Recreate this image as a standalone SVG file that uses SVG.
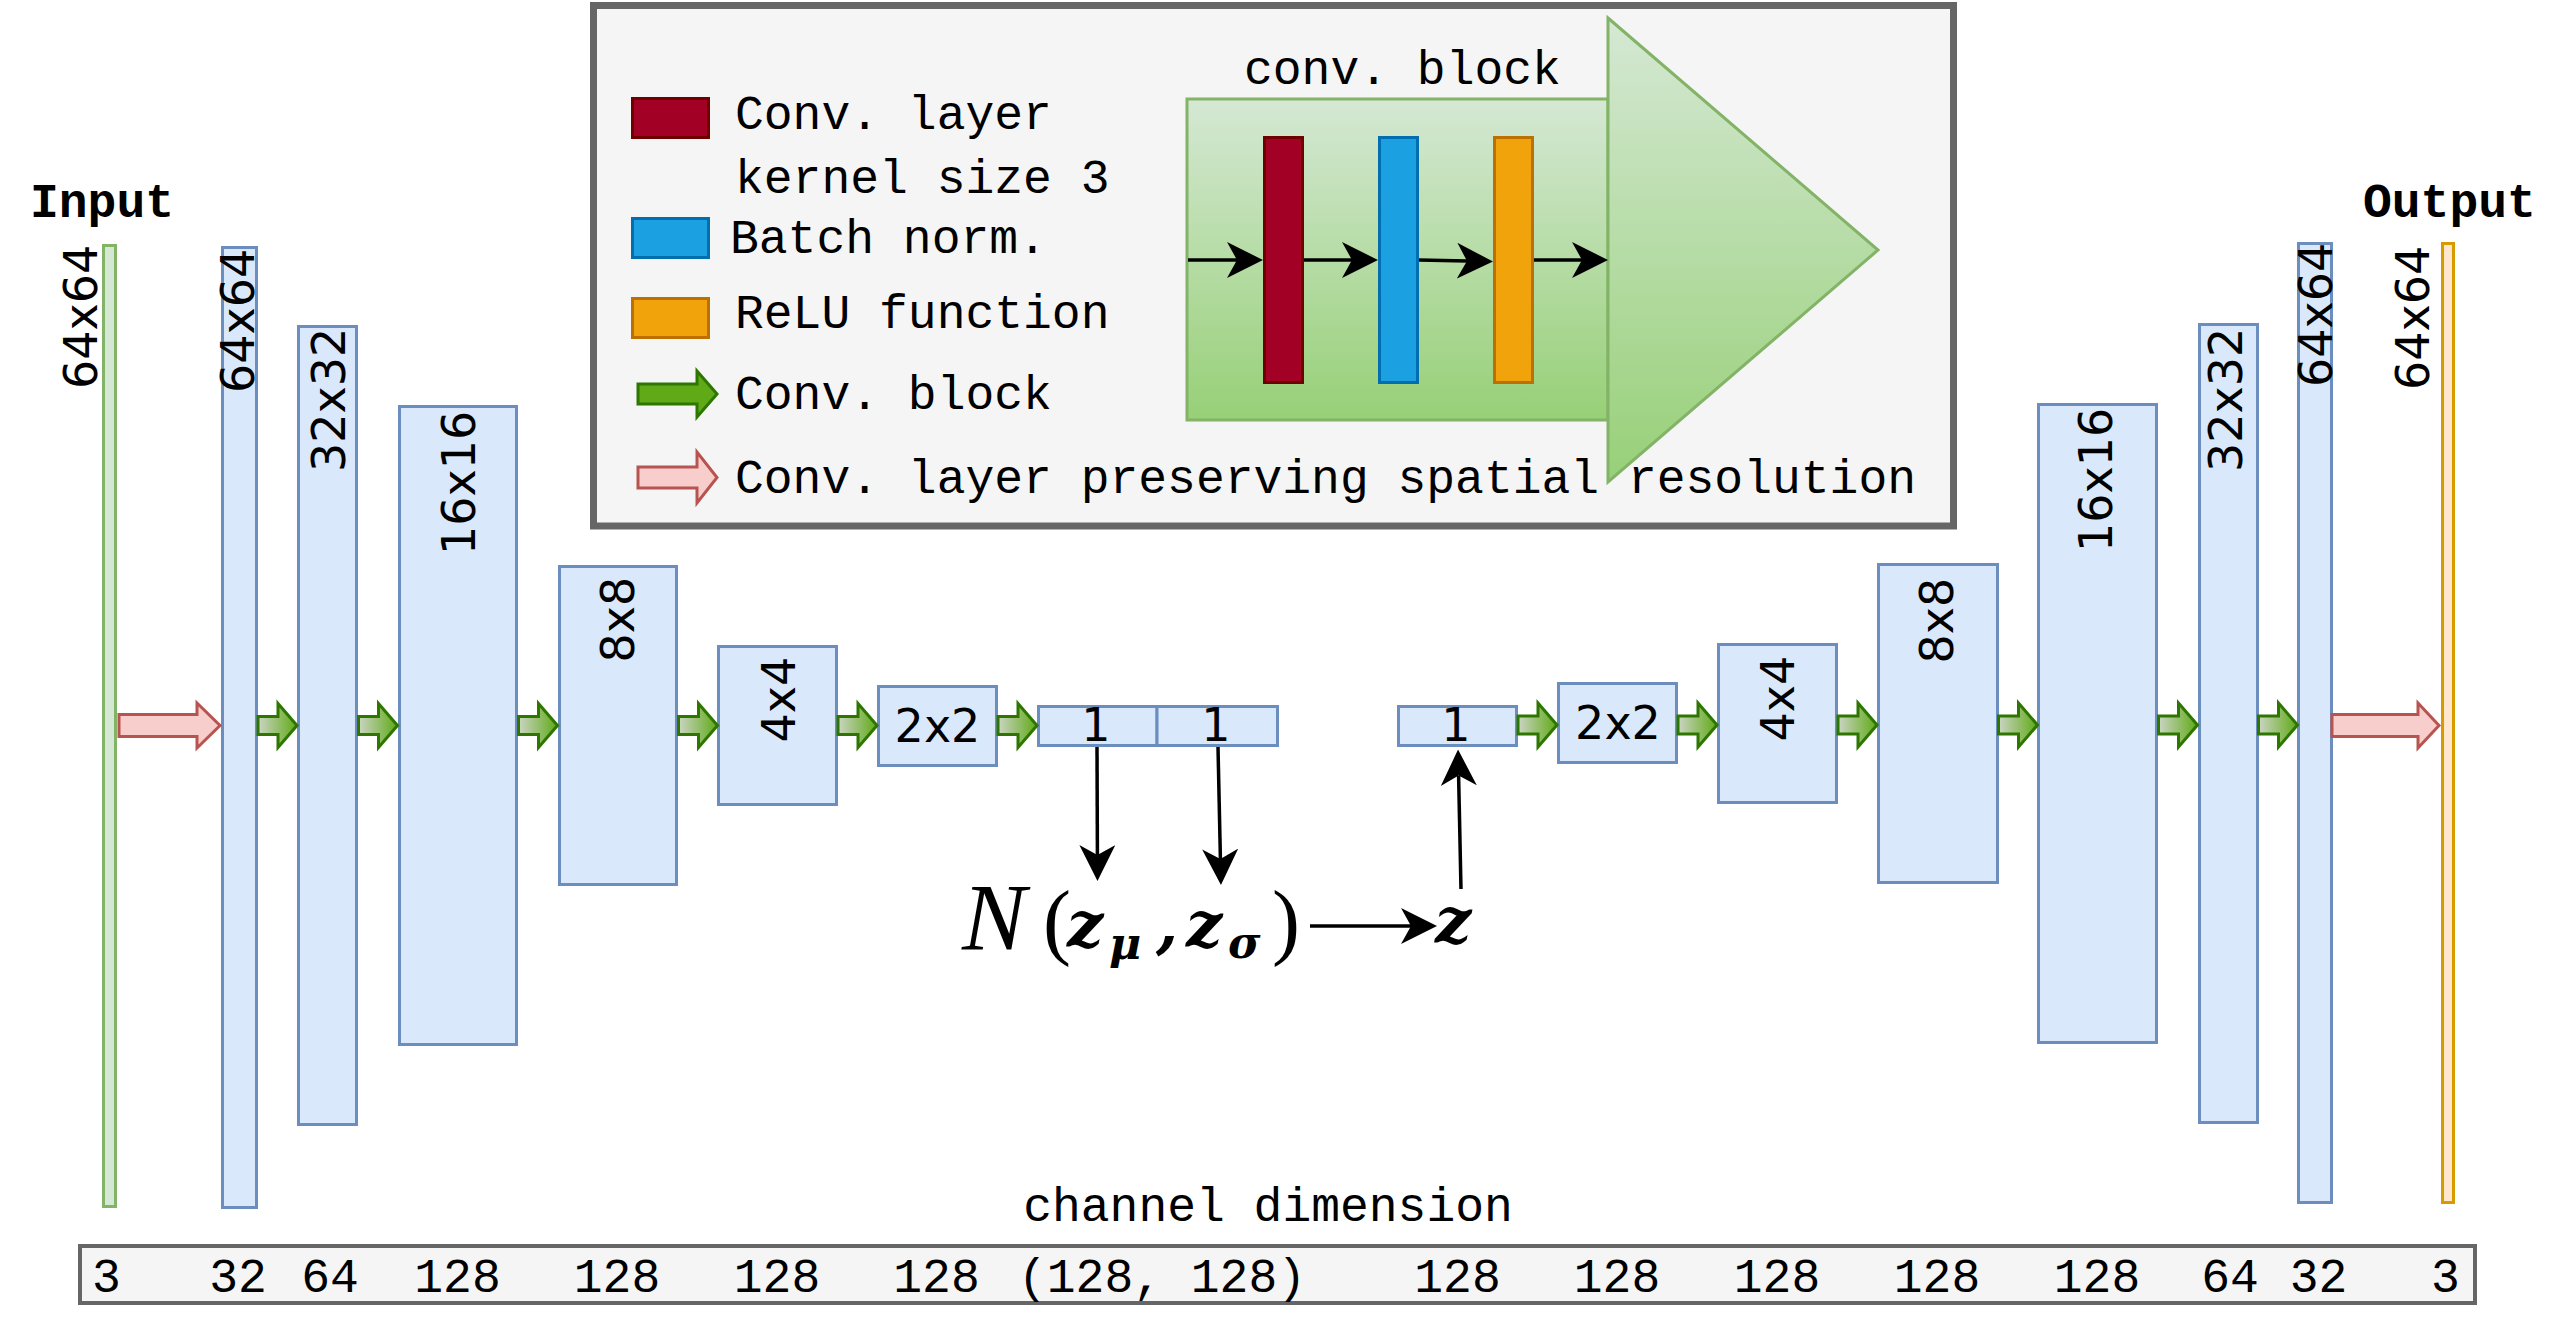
<svg xmlns="http://www.w3.org/2000/svg" width="2572" height="1320" viewBox="0 0 2572 1320">
<defs>
<style>
.bar{fill:#dae8fc;stroke:#6c8ebf;stroke-width:3}
.mono{font-family:"Liberation Mono","DejaVu Sans Mono",monospace;font-size:48px;fill:#000}
.lbl{font-family:"DejaVu Sans","Liberation Sans",sans-serif;font-size:46px;fill:#000}
.conv{fill:url(#gArrow);stroke:#2d7600;stroke-width:3}
.pres{fill:#f8cecc;stroke:#b85450;stroke-width:3}
.ln{stroke:#000;stroke-width:3.5;fill:none;marker-end:url(#ah)}
.mz{font-family:"DejaVu Serif","Liberation Serif",serif;font-weight:bold;font-style:italic;fill:#000}
</style>
<linearGradient id="gArrow" x1="0" y1="0" x2="1" y2="0"><stop offset="0" stop-color="#cbd5c4"/><stop offset="1" stop-color="#60a917"/></linearGradient>
<linearGradient id="gBlock" x1="0" y1="0" x2="0" y2="1"><stop offset="0" stop-color="#d5e8d4"/><stop offset="1" stop-color="#97d077"/></linearGradient>
<marker id="ah" markerUnits="userSpaceOnUse" markerWidth="36" markerHeight="36" viewBox="0 0 36 36" refX="10" refY="18" orient="auto"><path d="M0,0 L36,18 L0,36 L10,18 Z" fill="#000"/></marker>
<path id="greenArrow" d="M0,-9 H20 V-22 L39,0 L20,22 V9 H0 Z"/>
</defs>
<rect width="2572" height="1320" fill="#fff"/>

<g id="legend">
<rect x="593.5" y="5.5" width="1360" height="520.5" fill="#f5f5f5" stroke="#666666" stroke-width="7"/>
<rect x="632.5" y="98.5" width="76" height="39" fill="#a20025" stroke="#6f0000" stroke-width="3"/>
<rect x="632.5" y="218.5" width="76" height="39" fill="#1ba1e2" stroke="#006eaf" stroke-width="3"/>
<rect x="632.5" y="298.5" width="76" height="39" fill="#f0a30a" stroke="#bd7000" stroke-width="3"/>
<path d="M638,384 H697 V371 L717,394 L697,417 V404 H638 Z" fill="#60a917" stroke="#2d7600" stroke-width="3"/>
<path class="pres" d="M638,467 H697 V452 L717,477.5 L697,503 V488 H638 Z"/>
<text class="mono" x="735" y="129">Conv. layer</text>
<text class="mono" x="735" y="193">kernel size 3</text>
<text class="mono" x="730" y="253">Batch norm.</text>
<text class="mono" x="735" y="328">ReLU function</text>
<text class="mono" x="735" y="409">Conv. block</text>
<text class="mono" x="735" y="493">Conv. layer preserving spatial resolution</text>
</g>

<g id="conv-block-detail">
<rect x="1187" y="99" width="421" height="321" fill="url(#gBlock)" stroke="#82b366" stroke-width="3"/>
<path d="M1608,18 L1878,250 L1608,482 Z" fill="url(#gBlock)" stroke="#82b366" stroke-width="3"/>
<text class="mono" x="1244" y="84">conv. block</text>
<rect x="1264.5" y="137.5" width="38" height="245" fill="#a20025" stroke="#6f0000" stroke-width="3"/>
<rect x="1379.5" y="137.5" width="38" height="245" fill="#1ba1e2" stroke="#006eaf" stroke-width="3"/>
<rect x="1494.5" y="137.5" width="38" height="245" fill="#f0a30a" stroke="#bd7000" stroke-width="3"/>
<line class="ln" x1="1188" y1="260" x2="1237" y2="260"/>
<line class="ln" x1="1304" y1="260" x2="1352" y2="260"/>
<line class="ln" x1="1419" y1="260" x2="1467" y2="261"/>
<line class="ln" x1="1534" y1="260" x2="1582" y2="260"/>
</g>

<g id="input">
<text class="mono" x="30" y="217" font-weight="bold">Input</text>
<rect x="103.5" y="245.5" width="12" height="961" fill="#d5e8d4" stroke="#82b366" stroke-width="3"/>
<text class="lbl" text-anchor="end" transform="translate(96.8,244.7) rotate(-90)">64x64</text>
</g>

<g id="enc-64">
<rect class="bar" x="222.5" y="247.5" width="34" height="960"/>
<text class="lbl" text-anchor="end" transform="translate(254,248.7) rotate(-90)">64x64</text>
</g>
<g id="enc-32">
<rect class="bar" x="298.5" y="326.5" width="58" height="798"/>
<text class="lbl" text-anchor="end" transform="translate(345,327.7) rotate(-90)">32x32</text>
</g>
<g id="enc-16">
<rect class="bar" x="399.5" y="406.5" width="117" height="638"/>
<text class="lbl" text-anchor="end" transform="translate(475,410.7) rotate(-90)">16x16</text>
</g>
<g id="enc-8">
<rect class="bar" x="559.5" y="566.5" width="117" height="318"/>
<text class="lbl" text-anchor="end" transform="translate(634,576.7) rotate(-90)">8x8</text>
</g>
<g id="enc-4">
<rect class="bar" x="718.5" y="646.5" width="118" height="158"/>
<text class="lbl" text-anchor="end" transform="translate(795,656.7) rotate(-90)">4x4</text>
</g>
<g id="enc-2">
<rect class="bar" x="878.5" y="686.5" width="118" height="79"/>
<text class="lbl" x="937.5" y="742" text-anchor="middle">2x2</text>
</g>
<g id="latent-mu-sigma">
<rect class="bar" x="1038.5" y="706.5" width="118.5" height="39"/>
<rect class="bar" x="1157" y="706.5" width="120.5" height="39"/>
<text class="lbl" x="1096" y="741" text-anchor="middle">1</text>
<text class="lbl" x="1216" y="741" text-anchor="middle">1</text>
</g>

<g id="dec-1">
<rect class="bar" x="1398.5" y="706.5" width="118" height="39"/>
<text class="lbl" x="1456" y="741" text-anchor="middle">1</text>
</g>
<g id="dec-2">
<rect class="bar" x="1558.5" y="683.5" width="118" height="79"/>
<text class="lbl" x="1618" y="739" text-anchor="middle">2x2</text>
</g>
<g id="dec-4">
<rect class="bar" x="1718.5" y="644.5" width="118" height="158"/>
<text class="lbl" text-anchor="end" transform="translate(1794,655.7) rotate(-90)">4x4</text>
</g>
<g id="dec-8">
<rect class="bar" x="1878.5" y="564.5" width="119" height="318"/>
<text class="lbl" text-anchor="end" transform="translate(1953,577.7) rotate(-90)">8x8</text>
</g>
<g id="dec-16">
<rect class="bar" x="2038.5" y="404.5" width="118" height="638"/>
<text class="lbl" text-anchor="end" transform="translate(2112,407.7) rotate(-90)">16x16</text>
</g>
<g id="dec-32">
<rect class="bar" x="2199.5" y="324.5" width="58" height="798"/>
<text class="lbl" text-anchor="end" transform="translate(2242,327.7) rotate(-90)">32x32</text>
</g>
<g id="dec-64">
<rect class="bar" x="2298.5" y="243.5" width="33" height="959"/>
<text class="lbl" text-anchor="end" transform="translate(2332,242.7) rotate(-90)">64x64</text>
</g>
<g id="output">
<text class="mono" x="2363" y="217" font-weight="bold">Output</text>
<rect x="2442.5" y="243.5" width="11" height="959" fill="#ffe6cc" stroke="#d79b00" stroke-width="3"/>
<text class="lbl" text-anchor="end" transform="translate(2429,245.7) rotate(-90)">64x64</text>
</g>

<g id="formula">
<text x="962" y="950" font-family="Liberation Serif,serif" font-style="italic" font-size="96">N</text>
<text x="1043" y="949" font-family="Liberation Serif,serif" font-size="84">(</text>
<text class="mz" x="1067" y="946" font-size="64">z</text>
<text class="mz" x="1109" y="959" font-size="44">μ</text>
<text class="mz" x="1156" y="946" font-size="64">,</text>
<text class="mz" x="1186" y="946" font-size="64">z</text>
<text class="mz" x="1228" y="958" font-size="44">σ</text>
<text x="1272" y="949" font-family="Liberation Serif,serif" font-size="84">)</text>
<text class="mz" x="1435" y="942" font-size="64">z</text>
</g>

<g id="connectors">
<path class="pres" d="M119,714.5 H197 V703 L220,725.5 L197,748 V736.5 H119 Z"/>
<use href="#greenArrow" class="conv" x="258" y="725.5"/>
<use href="#greenArrow" class="conv" x="358.5" y="725.5"/>
<use href="#greenArrow" class="conv" x="518.5" y="725.5"/>
<use href="#greenArrow" class="conv" x="678.5" y="725.5"/>
<use href="#greenArrow" class="conv" x="838" y="725.5"/>
<use href="#greenArrow" class="conv" x="998" y="725.5"/>
<use href="#greenArrow" class="conv" x="1518" y="725"/>
<use href="#greenArrow" class="conv" x="1678" y="725"/>
<use href="#greenArrow" class="conv" x="1838" y="725"/>
<use href="#greenArrow" class="conv" x="1998.5" y="725"/>
<use href="#greenArrow" class="conv" x="2158.5" y="725"/>
<use href="#greenArrow" class="conv" x="2258.5" y="725"/>
<path class="pres" d="M2332,714.5 H2418 V703 L2439,725.5 L2418,748 V736.5 H2332 Z"/>
<line class="ln" x1="1097" y1="747" x2="1097.4" y2="855"/>
<line class="ln" x1="1218" y1="747" x2="1220.4" y2="859"/>
<line class="ln" x1="1310" y1="926" x2="1411" y2="926"/>
<line class="ln" x1="1461" y1="889" x2="1458.6" y2="775.6"/>
</g>

<g id="channel-dimension">
<text class="mono" x="1268" y="1221" text-anchor="middle">channel dimension</text>
<rect x="80" y="1246" width="2395" height="57" fill="#f5f5f5" stroke="#666666" stroke-width="4"/>
<g class="mono" text-anchor="middle">
<text x="106.5" y="1292">3</text>
<text x="238" y="1292">32</text>
<text x="330" y="1292">64</text>
<text x="457.5" y="1292">128</text>
<text x="617" y="1292">128</text>
<text x="777" y="1292">128</text>
<text x="936.5" y="1292">128</text>
<text x="1162" y="1292">(128, 128)</text>
<text x="1457.5" y="1292">128</text>
<text x="1617" y="1292">128</text>
<text x="1777" y="1292">128</text>
<text x="1937" y="1292">128</text>
<text x="2097" y="1292">128</text>
<text x="2230" y="1292">64</text>
<text x="2318.5" y="1292">32</text>
<text x="2445.5" y="1292">3</text>
</g>
</g>
</svg>
